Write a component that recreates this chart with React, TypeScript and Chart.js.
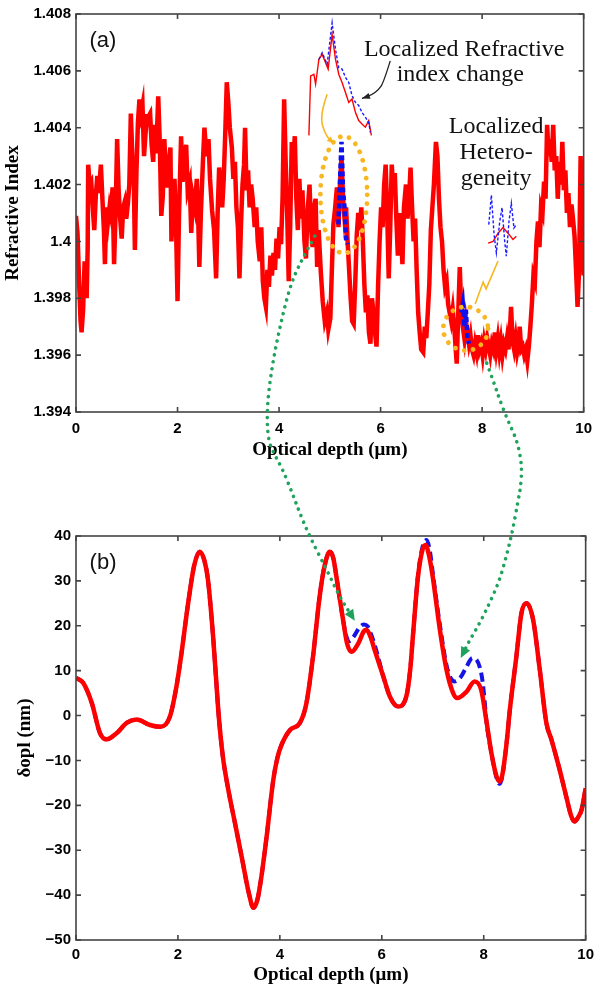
import React, { useEffect, useRef } from "react";
import { Chart, registerables } from "chart.js";
Chart.register(...registerables);

type P = [number, number];

// ---------- (a) refractive index vs optical depth ----------
const riRed: P[] = [
  [0.00, 1.4009], [0.03, 1.4003], [0.06, 1.3986], [0.09, 1.3972], [0.11, 1.3968], [0.14, 1.3976], [0.17, 1.3993],
  [0.19, 1.3990], [0.21, 1.3980], [0.23, 1.3998], [0.24, 1.4027], [0.27, 1.4020], [0.30, 1.4021], [0.33, 1.4012],
  [0.36, 1.4004], [0.39, 1.4016], [0.42, 1.4023], [0.45, 1.4017], [0.49, 1.4027], [0.52, 1.4015], [0.55, 1.4004],
  [0.57, 1.3992], [0.60, 1.4012], [0.63, 1.4007], [0.66, 1.4012], [0.69, 1.4009], [0.72, 1.4019], [0.75, 1.3992],
  [0.78, 1.4010], [0.81, 1.4036], [0.84, 1.4018], [0.87, 1.4008], [0.90, 1.4001], [0.93, 1.4012], [0.96, 1.4014],
  [0.99, 1.4008], [1.02, 1.4013], [1.05, 1.4020], [1.08, 1.4045], [1.11, 1.4030], [1.14, 1.4020], [1.16, 1.3997],
  [1.19, 1.4024], [1.22, 1.4042], [1.25, 1.4050], [1.28, 1.4045], [1.31, 1.4048], [1.34, 1.4030], [1.37, 1.4038],
  [1.40, 1.4044], [1.43, 1.4044], [1.46, 1.4045], [1.49, 1.4034], [1.52, 1.4028], [1.55, 1.4041], [1.58, 1.4031],
  [1.62, 1.4051], [1.65, 1.4035], [1.68, 1.4009], [1.71, 1.4016], [1.74, 1.4036], [1.77, 1.4024], [1.80, 1.4019],
  [1.83, 1.4028], [1.86, 1.4033], [1.88, 1.4000], [1.91, 1.4012], [1.94, 1.4022], [1.97, 1.4006], [2.00, 1.3979],
  [2.03, 1.4010], [2.07, 1.4037], [2.10, 1.4021], [2.13, 1.4028], [2.17, 1.4034], [2.20, 1.4018], [2.24, 1.4021],
  [2.27, 1.4003], [2.30, 1.4016], [2.34, 1.4012], [2.38, 1.4022], [2.41, 1.4006], [2.43, 1.3991], [2.46, 1.4010],
  [2.50, 1.4028], [2.53, 1.4040], [2.57, 1.4030], [2.61, 1.4036], [2.64, 1.4022], [2.68, 1.4011], [2.72, 1.4004],
  [2.76, 1.3987], [2.79, 1.4010], [2.82, 1.4026], [2.85, 1.4019], [2.88, 1.4012], [2.91, 1.4022], [2.94, 1.4038],
  [2.97, 1.4056], [3.00, 1.4049], [3.03, 1.4040], [3.07, 1.4033], [3.10, 1.4022], [3.13, 1.4028], [3.16, 1.4012],
  [3.19, 1.4005], [3.22, 1.3987], [3.25, 1.4006], [3.28, 1.4020], [3.31, 1.4027], [3.33, 1.4040], [3.36, 1.4018],
  [3.39, 1.4025], [3.42, 1.4012], [3.45, 1.4020], [3.48, 1.4015], [3.52, 1.4005], [3.55, 1.4012], [3.58, 1.4000],
  [3.62, 1.3993], [3.65, 1.4005], [3.68, 1.3986], [3.71, 1.3980], [3.74, 1.3977], [3.77, 1.3990], [3.80, 1.3984],
  [3.83, 1.3995], [3.86, 1.3988], [3.89, 1.3996], [3.92, 1.3990], [3.95, 1.4001], [3.98, 1.3994], [4.01, 1.4005],
  [4.04, 1.3999], [4.07, 1.4016], [4.10, 1.4050], [4.13, 1.4028], [4.16, 1.4010], [4.19, 1.3986], [4.22, 1.4006],
  [4.25, 1.4035], [4.28, 1.4029], [4.31, 1.4037], [4.34, 1.4015], [4.37, 1.4004], [4.40, 1.4022], [4.43, 1.4008],
  [4.46, 1.4018], [4.50, 1.4000], [4.53, 1.3994], [4.56, 1.4010], [4.60, 1.4020], [4.63, 1.4005], [4.66, 1.3998],
  [4.69, 1.4012], [4.72, 1.4015], [4.75, 1.3991], [4.78, 1.4004], [4.82, 1.3990], [4.86, 1.3979], [4.90, 1.3972],
  [4.94, 1.3975], [4.97, 1.3969], [5.01, 1.3973], [5.04, 1.3990], [5.07, 1.4006], [5.10, 1.4011], [5.14, 1.4019],
  [5.17, 1.4005], [5.20, 1.4020], [5.23, 1.4030], [5.26, 1.4015], [5.29, 1.4008], [5.32, 1.4012], [5.35, 1.4000],
  [5.38, 1.3990], [5.41, 1.3980], [5.44, 1.3972], [5.47, 1.3971], [5.50, 1.3985], [5.53, 1.4002], [5.56, 1.4010],
  [5.59, 1.4004], [5.62, 1.4012], [5.65, 1.4000], [5.68, 1.3985], [5.71, 1.3975], [5.74, 1.3981], [5.77, 1.3968],
  [5.80, 1.3964], [5.83, 1.3980], [5.86, 1.3975], [5.89, 1.3968], [5.92, 1.3963], [5.95, 1.3984], [5.98, 1.4000],
  [6.01, 1.4012], [6.04, 1.4005], [6.07, 1.4020], [6.10, 1.4027], [6.13, 1.4010], [6.16, 1.3987], [6.19, 1.4005],
  [6.22, 1.4027], [6.25, 1.4018], [6.28, 1.4024], [6.31, 1.4008], [6.34, 1.3995], [6.37, 1.4010], [6.40, 1.4003],
  [6.43, 1.3992], [6.46, 1.4012], [6.50, 1.4020], [6.53, 1.4008], [6.56, 1.4015], [6.59, 1.4026], [6.62, 1.4012],
  [6.65, 1.4000], [6.68, 1.4008], [6.71, 1.3990], [6.74, 1.3975], [6.77, 1.3968], [6.80, 1.3962], [6.84, 1.3961],
  [6.87, 1.3970], [6.90, 1.3966], [6.93, 1.3975], [6.96, 1.3985], [6.99, 1.4004], [7.02, 1.4012], [7.05, 1.4020],
  [7.09, 1.4035], [7.12, 1.4030], [7.15, 1.4015], [7.18, 1.4005], [7.21, 1.4000], [7.24, 1.3990], [7.27, 1.3984],
  [7.30, 1.3986], [7.33, 1.3978], [7.36, 1.3975], [7.39, 1.3972], [7.42, 1.3976], [7.45, 1.3970], [7.48, 1.3962],
  [7.50, 1.3957], [7.53, 1.3975], [7.56, 1.3991], [7.59, 1.3975], [7.62, 1.3970], [7.65, 1.3966], [7.68, 1.3972],
  [7.71, 1.3968], [7.74, 1.3964], [7.77, 1.3967], [7.80, 1.3962], [7.83, 1.3960], [7.86, 1.3964], [7.89, 1.3961],
  [7.92, 1.3967], [7.95, 1.3962], [7.98, 1.3964], [8.01, 1.3960], [8.04, 1.3965], [8.07, 1.3962], [8.10, 1.3966],
  [8.13, 1.3963], [8.16, 1.3960], [8.19, 1.3964], [8.22, 1.3962], [8.25, 1.3968], [8.28, 1.3962], [8.31, 1.3966],
  [8.34, 1.3961], [8.37, 1.3965], [8.40, 1.3960], [8.43, 1.3964], [8.46, 1.3962], [8.49, 1.3966], [8.52, 1.3962],
  [8.55, 1.3970], [8.57, 1.3977], [8.60, 1.3965], [8.63, 1.3962], [8.66, 1.3966], [8.69, 1.3961], [8.72, 1.3964],
  [8.74, 1.3970], [8.77, 1.3962], [8.80, 1.3963], [8.83, 1.3960], [8.86, 1.3962], [8.89, 1.3958], [8.92, 1.3963],
  [8.95, 1.3970], [8.98, 1.3978], [9.01, 1.3988], [9.04, 1.3986], [9.07, 1.4000], [9.10, 1.4007], [9.13, 1.3998],
  [9.16, 1.4012], [9.19, 1.4010], [9.22, 1.4021], [9.25, 1.4015], [9.28, 1.4041], [9.31, 1.4030], [9.34, 1.4036],
  [9.37, 1.4028], [9.40, 1.4041], [9.43, 1.4025], [9.46, 1.4030], [9.49, 1.4015], [9.52, 1.4028], [9.55, 1.4020],
  [9.58, 1.4035], [9.61, 1.4018], [9.64, 1.4025], [9.67, 1.4010], [9.70, 1.4017], [9.73, 1.4005], [9.76, 1.4013],
  [9.79, 1.4008], [9.82, 1.4002], [9.85, 1.3990], [9.88, 1.3977], [9.91, 1.3990], [9.94, 1.4030], [9.97, 1.4008],
  [10.00, 1.3988],
];
const riBlueA: P[] = [[5.17, 1.4006], [5.20, 1.4021], [5.23, 1.4035], [5.26, 1.4018], [5.29, 1.4012], [5.32, 1.4001], [5.35, 1.3999]];
const riBlueB: P[] = [[7.59, 1.3975], [7.62, 1.3978], [7.65, 1.3970], [7.68, 1.3976], [7.71, 1.3966], [7.74, 1.3964]];

// insets (zoomed copies drawn inside panel a)
const insetChangeRed: P[] = [
  [4.588, 1.40373], [4.622, 1.40582], [4.686, 1.40588], [4.720, 1.40553], [4.784, 1.40640], [4.849, 1.40658],
  [4.916, 1.40629], [4.967, 1.40606], [5.045, 1.40728], [5.112, 1.40640], [5.176, 1.40588], [5.241, 1.40559],
  [5.308, 1.40524], [5.373, 1.40489], [5.437, 1.40501], [5.504, 1.40454], [5.569, 1.40425], [5.633, 1.40413],
  [5.700, 1.40402], [5.765, 1.40425], [5.818, 1.40373],
];
const insetChangeBlue: P[] = [
  [4.784, 1.40640], [4.849, 1.40664], [4.947, 1.40623], [5.045, 1.40769], [5.112, 1.40675], [5.176, 1.40611],
  [5.241, 1.40606], [5.308, 1.40577], [5.373, 1.40559], [5.437, 1.40513], [5.504, 1.40489], [5.569, 1.40478],
  [5.633, 1.40454], [5.700, 1.40437], [5.765, 1.40419], [5.798, 1.40384],
];
const insetHeteroRed: P[] = [
  [8.118, 1.39994], [8.216, 1.40000], [8.314, 1.40029], [8.412, 1.40049], [8.510, 1.40029], [8.608, 1.40007], [8.673, 1.40018],
];
const insetHeteroBlue: P[] = [
  [8.131, 1.40059], [8.182, 1.40163], [8.235, 1.40025], [8.280, 1.39960], [8.347, 1.40070], [8.392, 1.40119],
  [8.445, 1.40000], [8.476, 1.39948], [8.529, 1.40070], [8.575, 1.40134], [8.627, 1.40047], [8.673, 1.40059],
];

// annotation anchors for panel a (data units)
const labelA: P = [0.53, 1.40706];
const changeText: [string, number, number][] = [["Localized Refractive", 7.647, 1.40653], ["index change", 7.57, 1.40566]];
const heteroText: [string, number, number][] = [["Localized", 8.275, 1.40381], ["Hetero-", 8.275, 1.4029], ["geneity", 8.275, 1.40199]];
const blackArrow: P[] = [[6.19, 1.40635], [6.059, 1.40559], [5.961, 1.40534], [5.829, 1.40515], [5.633, 1.40503]];
const yellowArrow: P[] = [[4.947, 1.40518], [4.798, 1.40443], [4.916, 1.40373], [5.078, 1.40344]];
const yellowLine: P[] = [[7.863, 1.3978], [8.02, 1.39857], [8.078, 1.39833], [8.314, 1.39931]];
const ellipseChange = { c: [5.275, 1.40164] as P, rx: 0.461, ry: 0.00206 };
const ellipseHetero = { c: [7.676, 1.39693] as P, rx: 0.441, ry: 0.00077 };

// ---------- (b) delta opl vs optical depth ----------
const oplRed: P[] = [
  [0, 8.4], [0.14, 7.3], [0.31, 2.8], [0.47, -3.9], [0.6, -5.3], [0.8, -3.9], [1.0, -1.6], [1.19, -0.9], [1.45, -2.1],
  [1.65, -2.5], [1.84, -0.3], [1.97, 6.4], [2.07, 13.9], [2.2, 25.0], [2.32, 33.5], [2.43, 36.5], [2.52, 34.5],
  [2.59, 30.2], [2.69, 17.6], [2.75, 8.0], [2.80, 0.0], [2.88, -9.0], [2.98, -16.0], [3.12, -24.0], [3.26, -32.0],
  [3.39, -39.5], [3.48, -42.8], [3.56, -41.0], [3.63, -36.5], [3.74, -27.0], [3.87, -14.4], [3.95, -9.5], [4.03, -6.6],
  [4.2, -3.2], [4.39, -1.7], [4.52, 2.7], [4.65, 13.1], [4.78, 26.5], [4.88, 33.5], [4.98, 36.5], [5.05, 35.0],
  [5.11, 30.9], [5.24, 21.3], [5.32, 16.0], [5.41, 14.2], [5.54, 16.1], [5.65, 18.8], [5.70, 19.1], [5.78, 17.5],
  [5.86, 14.6], [6.03, 8.7], [6.16, 4.2], [6.32, 2.0], [6.48, 4.2], [6.56, 10.5], [6.61, 17.6], [6.71, 30.9],
  [6.80, 37.0], [6.86, 38.0], [6.93, 35.5], [7.0, 30.9], [7.14, 19.1], [7.27, 10.2], [7.40, 5.0], [7.48, 3.9],
  [7.66, 5.3], [7.82, 7.6], [7.95, 5.7], [8.05, -1.0], [8.15, -8.3], [8.25, -13.5], [8.31, -14.7], [8.36, -13.5],
  [8.45, -6.0], [8.51, 1.0], [8.64, 13.1], [8.74, 22.8], [8.84, 25.0], [8.97, 21.3], [9.10, 10.2], [9.23, -1.7],
  [9.33, -5.4], [9.49, -12.1], [9.62, -18.1], [9.72, -22.5], [9.78, -23.6], [9.86, -22.5], [9.92, -21.0], [10, -16.2],
];
const oplBlue: P[] = [
  [0, 8.4], [0.14, 7.3], [0.31, 2.8], [0.47, -3.9], [0.6, -5.3], [0.8, -3.9], [1.0, -1.6], [1.19, -0.9], [1.45, -2.1],
  [1.65, -2.5], [1.84, -0.3], [1.97, 6.4], [2.07, 13.9], [2.2, 25.0], [2.32, 33.5], [2.43, 36.5], [2.52, 34.5],
  [2.59, 30.2], [2.69, 17.6], [2.75, 8.0], [2.80, 0.0], [2.88, -9.0], [2.98, -16.0], [3.12, -24.0], [3.26, -32.0],
  [3.39, -39.5], [3.48, -42.8], [3.56, -41.0], [3.63, -36.5], [3.74, -27.0], [3.87, -14.4], [3.95, -9.5], [4.03, -6.6],
  [4.2, -3.2], [4.39, -1.7], [4.52, 2.7], [4.65, 13.1], [4.78, 26.5], [4.88, 33.5], [4.98, 36.5], [5.05, 35.0],
  [5.11, 30.9], [5.24, 21.3], [5.30, 17.8], [5.36, 16.6], [5.45, 17.6], [5.56, 19.6], [5.65, 20.3], [5.72, 19.9],
  [5.80, 17.8], [5.90, 14.2], [6.03, 8.7], [6.16, 4.2], [6.32, 2.0], [6.48, 4.2], [6.56, 10.5], [6.61, 17.6],
  [6.71, 31.2], [6.80, 37.6], [6.88, 39.1], [6.95, 36.2], [7.0, 31.8], [7.14, 20.2], [7.27, 11.2], [7.35, 8.4],
  [7.43, 7.6], [7.55, 8.6], [7.65, 10.6], [7.78, 12.8], [7.86, 12.4], [7.93, 10.5], [7.98, 7.4], [8.02, 3.0],
  [8.05, -1.0], [8.15, -8.3], [8.25, -13.8], [8.31, -15.2], [8.36, -13.8], [8.45, -6.0], [8.51, 1.0], [8.64, 13.1],
  [8.74, 22.8], [8.84, 25.0], [8.97, 21.3], [9.10, 10.2], [9.23, -1.7], [9.33, -5.4], [9.49, -12.1], [9.62, -18.1],
  [9.72, -22.5], [9.78, -23.6], [9.86, -22.5], [9.92, -21.0], [10, -16.2],
];
const labelB: P = [0.53, 33.98];
// green dotted arrows linking panel a to panel b (in panel b data units)
const greenArrow1: P[] = [
  [4.686, 106.8], [4.392, 100.8], [4.196, 95.5], [4.0, 86.6], [3.843, 77.6], [3.745, 68.7], [3.765, 61.4],
  [3.902, 58.0], [4.059, 54.7], [4.235, 49.8], [4.392, 45.1], [4.588, 39.8], [4.922, 32.4], [5.176, 26.4], [5.471, 21.1],
];
const greenArrow2: P[] = [
  [8.059, 78.5], [8.196, 74.3], [8.314, 70.3], [8.471, 65.8], [8.647, 61.4], [8.725, 57.4], [8.745, 54.7],
  [8.725, 50.9], [8.667, 47.4], [8.569, 41.3], [8.451, 35.8], [8.314, 30.2], [8.118, 25.1], [7.922, 20.6],
  [7.725, 16.8], [7.549, 12.8],
];

const SANS = "'Liberation Sans', Arial, Helvetica, sans-serif";
const SERIF = "'Liberation Serif', 'Times New Roman', serif";
const GREEN = "#1fa35c";
const GOLD = "#f8b620";

const toXY = (arr: P[]) => arr.map(([x, y]) => ({ x, y }));

function toPx(chart: any, p: P): P {
  return [chart.scales.x.getPixelForValue(p[0]), chart.scales.y.getPixelForValue(p[1])];
}

function smoothPath(ctx: CanvasRenderingContext2D, pts: P[]) {
  ctx.moveTo(pts[0][0], pts[0][1]);
  for (let i = 1; i < pts.length - 1; i++) {
    const mx = (pts[i][0] + pts[i + 1][0]) / 2;
    const my = (pts[i][1] + pts[i + 1][1]) / 2;
    ctx.quadraticCurveTo(pts[i][0], pts[i][1], mx, my);
  }
  const l = pts[pts.length - 1];
  ctx.lineTo(l[0], l[1]);
}

function arrowHead(ctx: CanvasRenderingContext2D, from: P, to: P, len: number, w: number, color: string) {
  const a = Math.atan2(to[1] - from[1], to[0] - from[0]);
  const bx = to[0] - len * Math.cos(a);
  const by = to[1] - len * Math.sin(a);
  ctx.save();
  ctx.fillStyle = color;
  ctx.beginPath();
  ctx.moveTo(to[0], to[1]);
  ctx.lineTo(bx + (w / 2) * Math.sin(a), by - (w / 2) * Math.cos(a));
  ctx.lineTo(bx - (w / 2) * Math.sin(a), by + (w / 2) * Math.cos(a));
  ctx.closePath();
  ctx.fill();
  ctx.restore();
}

const framePlugin = {
  id: "frameBox",
  afterDatasetsDraw(chart: any) {
    const { ctx, chartArea: a, scales } = chart;
    ctx.save();
    ctx.strokeStyle = "#444";
    ctx.lineWidth = 1.6;
    ctx.strokeRect(a.left, a.top, a.right - a.left, a.bottom - a.top);
    const tl = 5;
    ctx.beginPath();
    scales.x.ticks.forEach((t: any) => {
      const x = scales.x.getPixelForValue(t.value);
      ctx.moveTo(x, a.bottom); ctx.lineTo(x, a.bottom - tl);
      ctx.moveTo(x, a.top); ctx.lineTo(x, a.top + tl);
    });
    scales.y.ticks.forEach((t: any) => {
      const y = scales.y.getPixelForValue(t.value);
      ctx.moveTo(a.left, y); ctx.lineTo(a.left + tl, y);
      ctx.moveTo(a.right, y); ctx.lineTo(a.right - tl, y);
    });
    ctx.stroke();
    ctx.restore();
  },
};

function dottedEllipse(ctx: CanvasRenderingContext2D, chart: any, e: { c: P; rx: number; ry: number }) {
  const c = toPx(chart, e.c);
  const rx = Math.abs(chart.scales.x.getPixelForValue(e.c[0] + e.rx) - c[0]);
  const ry = Math.abs(chart.scales.y.getPixelForValue(e.c[1] + e.ry) - c[1]);
  ctx.save();
  ctx.strokeStyle = GOLD;
  ctx.lineWidth = 4.8;
  ctx.lineCap = "round";
  ctx.setLineDash([0.01, 9]);
  ctx.beginPath();
  ctx.ellipse(c[0], c[1], rx, ry, 0, 0, Math.PI * 2);
  ctx.stroke();
  ctx.restore();
}

const topAnnotations = {
  id: "topAnnotations",
  afterDraw(chart: any) {
    const ctx: CanvasRenderingContext2D = chart.ctx;
    ctx.save();
    ctx.fillStyle = "#111";
    ctx.textAlign = "center";
    ctx.textBaseline = "middle";
    ctx.font = `22px ${SANS}`;
    const la = toPx(chart, labelA);
    ctx.fillText("(a)", la[0], la[1]);
    ctx.textBaseline = "alphabetic";
    ctx.font = `24px ${SERIF}`;
    [...changeText, ...heteroText].forEach(([t, x, y]) => {
      const p = toPx(chart, [x, y]);
      ctx.fillText(t, p[0], p[1]);
    });
    // black arrow
    const bp = blackArrow.map((p) => toPx(chart, p));
    ctx.strokeStyle = "#222";
    ctx.lineWidth = 1.3;
    ctx.beginPath();
    smoothPath(ctx, bp);
    ctx.stroke();
    arrowHead(ctx, bp[bp.length - 2], bp[bp.length - 1], 8, 6, "#222");
    // yellow arrows
    const yp = yellowArrow.map((p) => toPx(chart, p));
    ctx.strokeStyle = GOLD;
    ctx.lineWidth = 1.6;
    ctx.beginPath();
    smoothPath(ctx, yp);
    ctx.stroke();
    arrowHead(ctx, yp[yp.length - 2], yp[yp.length - 1], 7, 6, GOLD);
    const yl = yellowLine.map((p) => toPx(chart, p));
    ctx.beginPath();
    yl.forEach((p, i) => (i ? ctx.lineTo(p[0], p[1]) : ctx.moveTo(p[0], p[1])));
    ctx.stroke();
    ctx.restore();
    dottedEllipse(ctx, chart, ellipseChange);
    dottedEllipse(ctx, chart, ellipseHetero);
  },
};

const bottomAnnotations = {
  id: "bottomAnnotations",
  afterDraw(chart: any) {
    const ctx: CanvasRenderingContext2D = chart.ctx;
    ctx.save();
    ctx.fillStyle = "#111";
    ctx.textAlign = "center";
    ctx.textBaseline = "middle";
    ctx.font = `22px ${SANS}`;
    const lb = toPx(chart, labelB);
    ctx.fillText("(b)", lb[0], lb[1]);
    [greenArrow1, greenArrow2].forEach((arr) => {
      const pts = arr.map((p) => toPx(chart, p));
      const tip = pts[pts.length - 1];
      const prev = pts[pts.length - 2];
      const ang = Math.atan2(tip[1] - prev[1], tip[0] - prev[0]);
      const line = pts.slice(0, -1).concat([[tip[0] - 8 * Math.cos(ang), tip[1] - 8 * Math.sin(ang)] as P]);
      ctx.save();
      ctx.strokeStyle = GREEN;
      ctx.lineWidth = 3.6;
      ctx.lineCap = "round";
      ctx.setLineDash([0.01, 7]);
      ctx.beginPath();
      smoothPath(ctx, line);
      ctx.stroke();
      ctx.restore();
      arrowHead(ctx, prev, tip, 11, 10, GREEN);
    });
    ctx.restore();
  },
};

function axisX(titlePadBottom: number, tickPad: number, height: number) {
  return {
    type: "linear",
    min: 0,
    max: 10,
    afterFit: (s: any) => { s.height = height; },
    grid: { display: false, drawTicks: false },
    border: { display: false },
    ticks: { stepSize: 2, padding: tickPad, color: "#000", font: { family: SANS, size: 15, weight: "bold" }, maxRotation: 0 },
    title: { display: true, text: "Optical depth (\u03bcm)", color: "#000", font: { family: SERIF, size: 19, weight: "bold" }, padding: { top: 0, bottom: titlePadBottom } },
  };
}

export default function App() {
  const topRef = useRef<HTMLCanvasElement>(null);
  const botRef = useRef<HTMLCanvasElement>(null);

  useEffect(() => {
    const lineBase = { pointRadius: 0, pointHoverRadius: 0, fill: false, tension: 0 };
    const top = new Chart(topRef.current as HTMLCanvasElement, {
      type: "line",
      data: {
        datasets: [
          { ...lineBase, data: toXY(insetChangeBlue), borderColor: "#1a1aff", borderWidth: 1.4, borderDash: [3, 2], order: 0 },
          { ...lineBase, data: toXY(insetHeteroBlue), borderColor: "#1a1aff", borderWidth: 1.4, borderDash: [3, 2], order: 0 },
          { ...lineBase, data: toXY(insetChangeRed), borderColor: "#ff0000", borderWidth: 1.4, order: 1 },
          { ...lineBase, data: toXY(insetHeteroRed), borderColor: "#ff0000", borderWidth: 1.4, order: 1 },
          { ...lineBase, data: toXY(riBlueA), borderColor: "#1010ee", borderWidth: 4.5, borderDash: [5, 3], order: 2 },
          { ...lineBase, data: toXY(riBlueB), borderColor: "#1010ee", borderWidth: 4.5, borderDash: [5, 3], order: 2 },
          { ...lineBase, data: toXY(riRed), borderColor: "#ff0000", borderWidth: 4.5, order: 3 },
        ],
      } as any,
      options: {
        animation: false,
        responsive: false,
        events: [],
        plugins: { legend: { display: false }, tooltip: { enabled: false } },
        layout: { padding: { top: 11, right: 14, bottom: 0, left: 0 } },
        scales: {
          x: axisX(9, 8, 58),
          y: {
            type: "linear",
            min: 1.394,
            max: 1.408,
            afterFit: (s: any) => { s.width = 76; },
            grid: { display: false, drawTicks: false },
            border: { display: false },
            ticks: {
              stepSize: 0.002,
              padding: 5,
              color: "#000",
              font: { family: SANS, size: 15, weight: "bold" },
              callback: (v: any) => String(parseFloat(Number(v).toFixed(3))),
            },
            title: { display: true, text: "Refractive Index", color: "#000", font: { family: SERIF, size: 19, weight: "bold" }, padding: { top: 2, bottom: 0 } },
          },
        },
      } as any,
      plugins: [framePlugin, topAnnotations],
    });

    const bot = new Chart(botRef.current as HTMLCanvasElement, {
      type: "line",
      data: {
        datasets: [
          { ...lineBase, data: toXY(oplRed), borderColor: "#ff0000", borderWidth: 4.5, cubicInterpolationMode: "monotone", order: 0 },
          { ...lineBase, data: toXY(oplBlue), borderColor: "#1414e6", borderWidth: 4, borderDash: [9, 5], cubicInterpolationMode: "monotone", order: 1 },
        ],
      } as any,
      options: {
        animation: false,
        responsive: false,
        events: [],
        plugins: { legend: { display: false }, tooltip: { enabled: false } },
        layout: { padding: { top: 536, right: 14, bottom: 0, left: 0 } },
        scales: {
          x: axisX(5, 6, 51),
          y: {
            type: "linear",
            min: -50,
            max: 40,
            afterFit: (s: any) => { s.width = 76; },
            grid: { display: false, drawTicks: false },
            border: { display: false },
            ticks: {
              stepSize: 10,
              padding: 5,
              color: "#000",
              font: { family: SANS, size: 15, weight: "bold" },
              callback: (v: any) => (Number(v) < 0 ? "\u2212" + Math.abs(Number(v)) : String(v)),
            },
            title: { display: true, text: "\u03b4opl (nm)", color: "#000", font: { family: SERIF, size: 19, weight: "bold" }, padding: { top: 14, bottom: 0 } },
          },
        },
      } as any,
      plugins: [framePlugin, bottomAnnotations],
    });

    return () => {
      top.destroy();
      bot.destroy();
    };
  }, []);

  return (
    <div style={{ position: "absolute", left: 0, top: 0, width: 600, height: 991, background: "#fff", overflow: "hidden" }}>
      <canvas ref={topRef} width={600} height={470} style={{ position: "absolute", left: 0, top: 0 }} />
      <canvas ref={botRef} width={600} height={991} style={{ position: "absolute", left: 0, top: 0 }} />
    </div>
  );
}
